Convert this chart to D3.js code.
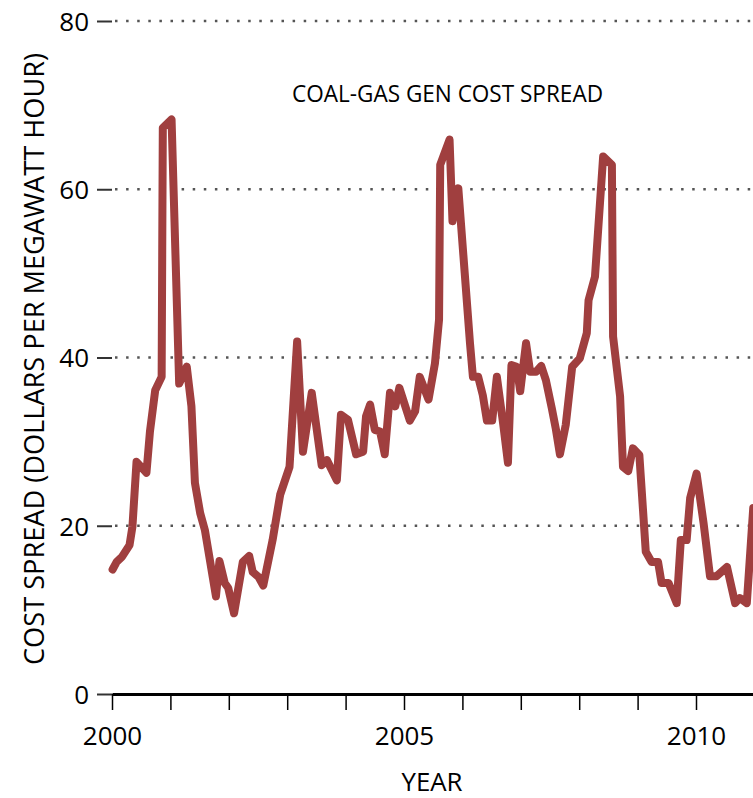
<!DOCTYPE html>
<html>
<head>
<meta charset="utf-8">
<title>Coal-gas gen cost spread</title>
<script src="https://d3js.org/d3.v7.min.js"></script>
<style>
  body { margin: 0; background: #fff; }
  svg { display: block; font-family: "Open Sans", sans-serif; }
</style>
</head>
<body>
<script>
// values (decimal year, dollars per MWh)
var years = [
  2000.01, 2000.08, 2000.17, 2000.30, 2000.35, 2000.42, 2000.59, 2000.65, 2000.74, 2000.85,
  2000.87, 2001.02, 2001.15, 2001.28, 2001.36, 2001.42, 2001.51, 2001.59, 2001.78, 2001.84,
  2001.93, 2001.99, 2002.09, 2002.24, 2002.35, 2002.41, 2002.51, 2002.59, 2002.75, 2002.88,
  2003.04, 2003.17, 2003.27, 2003.42, 2003.59, 2003.68, 2003.85, 2003.92, 2004.04, 2004.18,
  2004.30, 2004.35, 2004.42, 2004.50, 2004.59, 2004.67, 2004.76, 2004.85, 2004.92, 2005.10,
  2005.19, 2005.27, 2005.42, 2005.53, 2005.60, 2005.62, 2005.78, 2005.83, 2005.93, 2006.04,
  2006.13, 2006.18, 2006.27, 2006.35, 2006.42, 2006.51, 2006.59, 2006.70, 2006.78, 2006.84,
  2006.93, 2006.99, 2007.09, 2007.16, 2007.26, 2007.35, 2007.43, 2007.53, 2007.60, 2007.67,
  2007.77, 2007.88, 2008.01, 2008.13, 2008.16, 2008.27, 2008.41, 2008.56, 2008.58, 2008.70,
  2008.75, 2008.84, 2008.92, 2009.03, 2009.10, 2009.14, 2009.24, 2009.35, 2009.41, 2009.53,
  2009.67, 2009.74, 2009.84, 2009.90, 2010.01, 2010.13, 2010.24, 2010.35, 2010.53, 2010.67,
  2010.75, 2010.87, 2010.98
];
var spread = [
  14.8, 15.7, 16.3, 17.7, 19.9, 27.6, 26.3, 31.2, 36.1, 37.7,
  67.3, 68.3, 36.9, 38.9, 34.2, 25.1, 21.5, 19.5, 11.6, 15.8,
  13.2, 12.6, 9.6, 15.7, 16.4, 14.5, 13.9, 12.9, 18.3, 23.7,
  27.0, 41.9, 28.8, 35.8, 27.2, 27.8, 25.4, 33.2, 32.6, 28.5,
  28.8, 33.0, 34.4, 31.4, 31.2, 28.5, 35.8, 34.2, 36.4, 32.5,
  33.6, 37.7, 35.0, 39.3, 44.5, 62.9, 65.9, 56.2, 60.1, 50.0,
  41.7, 37.7, 37.7, 35.5, 32.5, 32.5, 37.7, 32.0, 27.5, 39.1,
  38.9, 36.0, 41.7, 38.3, 38.3, 39.0, 37.3, 34.0, 31.5, 28.5,
  32.0, 38.9, 39.9, 42.9, 46.8, 49.6, 63.9, 62.9, 42.5, 35.4,
  27.0, 26.5, 29.2, 28.4, 21.1, 16.9, 15.7, 15.7, 13.2, 13.2,
  10.8, 18.3, 18.3, 23.3, 26.2, 20.3, 14.0, 14.0, 15.1, 10.8,
  11.4, 10.8, 22.1
];
var yTicks = [0, 20, 40, 60, 80];
var yearTicks = d3.range(2000, 2011);
var yearLabels = [2000, 2005, 2010];

var width = 753, height = 798;

var svg = d3.select("body").append("svg")
    .attr("width", width)
    .attr("height", height);

var x = d3.scaleLinear().domain([2000, 2011]).range([112, 754.4]);
var y = d3.scaleLinear().domain([0, 80]).range([694, 21]);

// dotted grid
svg.append("g")
  .selectAll("line")
  .data(yTicks.slice(1))
  .enter().append("line")
    .attr("x1", 115)
    .attr("x2", width)
    .attr("y1", function(d) { return y(d); })
    .attr("y2", function(d) { return y(d); })
    .attr("stroke", "#555")
    .attr("stroke-width", 2.5)
    .attr("stroke-dasharray", "2.5,8.6");

// y axis: short dash + label
var yAxis = svg.append("g")
    .attr("transform", "translate(112,0)")
    .call(d3.axisLeft(y).tickValues(yTicks).tickSize(15).tickPadding(8));
yAxis.select(".domain").remove();
yAxis.selectAll(".tick line").attr("stroke", "#333").attr("stroke-width", 2);
yAxis.selectAll(".tick text")
    .attr("font-family", "Open Sans, sans-serif")
    .attr("font-size", 26)
    .attr("fill", "#000")
    .attr("dy", "0.36em");

// the series
var line = d3.line()
    .x(function(d, i) { return x(years[i]); })
    .y(function(d) { return y(d); });

svg.append("path")
    .datum(spread)
    .attr("d", line)
    .attr("fill", "none")
    .attr("stroke", "#a03f3f")
    .attr("stroke-width", 8)
    .attr("stroke-linejoin", "round")
    .attr("stroke-linecap", "round");

// x axis
var xAxis = svg.append("g")
    .attr("transform", "translate(0," + y(0) + ")")
    .call(d3.axisBottom(x)
        .tickValues(yearTicks)
        .tickSize(16)
        .tickSizeOuter(0)
        .tickPadding(17)
        .tickFormat(function(d) { return yearLabels.indexOf(d) >= 0 ? d : ""; }));
xAxis.select(".domain").attr("stroke", "#000").attr("stroke-width", 3);
xAxis.selectAll(".tick line").attr("stroke", "#000").attr("stroke-width", 1.5);
xAxis.selectAll(".tick text")
    .attr("font-family", "Open Sans, sans-serif")
    .attr("font-size", 26)
    .attr("fill", "#000");

// titles
svg.append("text")
    .attr("x", 292)
    .attr("y", 102)
    .attr("font-size", 24)
    .attr("textLength", 311)
    .attr("lengthAdjust", "spacingAndGlyphs")
    .text("COAL-GAS GEN COST SPREAD");

svg.append("text")
    .attr("x", 432)
    .attr("y", 791)
    .attr("text-anchor", "middle")
    .attr("font-size", 25)
    .attr("textLength", 61)
    .attr("lengthAdjust", "spacingAndGlyphs")
    .text("YEAR");

svg.append("text")
    .attr("transform", "translate(43.5,359) rotate(-90)")
    .attr("text-anchor", "middle")
    .attr("font-size", 27)
    .attr("textLength", 612)
    .attr("lengthAdjust", "spacingAndGlyphs")
    .text("COST SPREAD (DOLLARS PER MEGAWATT HOUR)");
</script>
</body>
</html>
